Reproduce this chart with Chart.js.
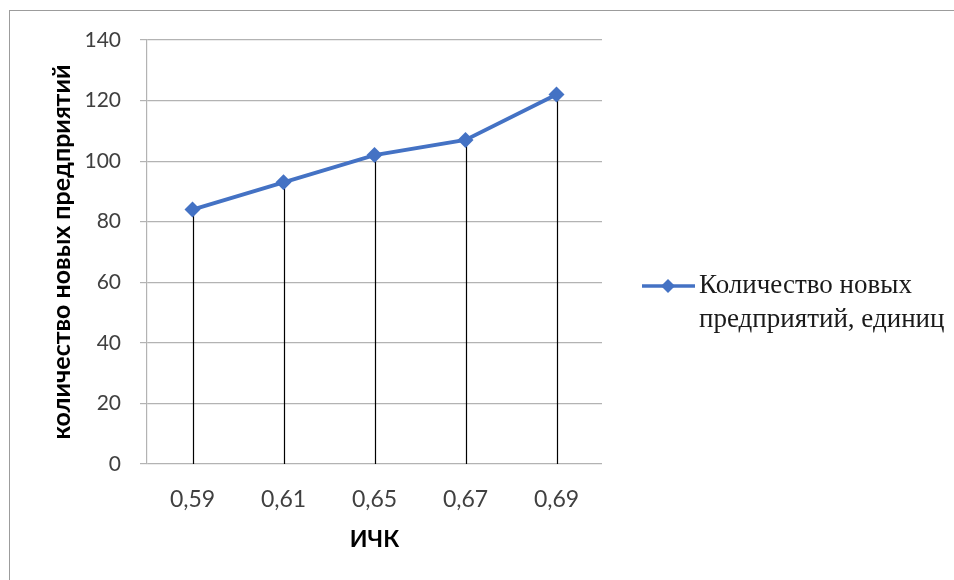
<!DOCTYPE html>
<html>
<head>
<meta charset="utf-8">
<script src="https://cdn.jsdelivr.net/npm/chart.js@4/dist/chart.umd.min.js"></script>
<style>
  html, body { margin: 0; padding: 0; background: #fff; overflow: hidden; }
  #wrap { position: relative; width: 954px; height: 580px; }
  #frame { position: absolute; left: 9px; top: 10px; width: 980px; height: 600px;
           border-left: 1.5px solid #9c9c9c; border-top: 1.5px solid #9c9c9c; }
  #c { position: absolute; left: 0; top: 0; }
</style>
</head>
<body>
<div id="wrap">
  <div id="frame"></div>
  <canvas id="c" width="954" height="580"></canvas>
</div>
<script>
// Index of knowledge capital vs. number of new enterprises
const categories = ['0,59', '0,61', '0,65', '0,67', '0,69'];
const newEnterprises = [84, 93, 102, 107, 122];
const seriesLabelLines = ['Количество новых', 'предприятий, единиц'];
const yMin = 0, yMax = 140, yStep = 20;

const LINE_BLUE = '#4472C4';
const GRID_GREY = '#b3b3b3';

// Black drop lines from each point down to the category axis
const dropLines = {
  id: 'dropLines',
  beforeDatasetsDraw(chart) {
    const { ctx, scales: { y } } = chart;
    const meta = chart.getDatasetMeta(0);
    ctx.save();
    ctx.strokeStyle = '#000';
    ctx.lineWidth = 1.2;
    meta.data.forEach(pt => {
      const x = Math.round(pt.x) + 0.5;
      ctx.beginPath();
      ctx.moveTo(x, pt.y);
      ctx.lineTo(x, y.getPixelForValue(yMin));
      ctx.stroke();
    });
    ctx.restore();
  }
};

// Two-line legend entry to the right of the plot
const sideLegend = {
  id: 'sideLegend',
  afterDraw(chart) {
    const { ctx, chartArea } = chart;
    const x0 = chartArea.right + 40;
    const yc = 286;
    ctx.save();
    ctx.strokeStyle = LINE_BLUE;
    ctx.lineWidth = 3.5;
    ctx.beginPath();
    ctx.moveTo(x0, yc);
    ctx.lineTo(x0 + 53, yc);
    ctx.stroke();
    ctx.fillStyle = LINE_BLUE;
    ctx.beginPath();
    const cx = x0 + 26, r = 7;
    ctx.moveTo(cx, yc - r); ctx.lineTo(cx + r, yc); ctx.lineTo(cx, yc + r); ctx.lineTo(cx - r, yc);
    ctx.closePath();
    ctx.fill();
    ctx.fillStyle = '#1a1a1a';
    ctx.font = '27px "Liberation Serif", "Times New Roman", serif';
    ctx.textBaseline = 'middle';
    ctx.textAlign = 'left';
    seriesLabelLines.forEach((t, i) => ctx.fillText(t, x0 + 57, yc + i * 34));
    ctx.restore();
  }
};

new Chart(document.getElementById('c'), {
  type: 'line',
  data: {
    labels: categories,
    datasets: [{
      label: seriesLabelLines.join(' '),
      data: newEnterprises,
      borderColor: LINE_BLUE,
      backgroundColor: LINE_BLUE,
      borderWidth: 4,
      pointStyle: 'rectRot',
      pointRadius: 8,
      pointBorderWidth: 0,
      tension: 0,
      fill: false
    }]
  },
  options: {
    responsive: false,
    animation: false,
    devicePixelRatio: 1,
    layout: { padding: { top: 40, right: 352, bottom: 0, left: 0 } },
    plugins: { legend: { display: false }, tooltip: { enabled: false } },
    scales: {
      x: {
        offset: true,
        grid: { display: false },
        border: { display: false },
        ticks: { color: '#404040', padding: 14, font: { family: 'Lato', size: 23 } },
        title: {
          display: true, text: 'ИЧК', color: '#000',
          font: { family: 'Lato', size: 23, weight: 'bold' },
          padding: { top: 0, bottom: 27 }
        },
        afterFit(s) { s.height = 116; }
      },
      y: {
        min: yMin, max: yMax,
        ticks: { stepSize: yStep, color: '#404040', padding: 19, font: { family: 'Lato', size: 21 } },
        grid: { color: GRID_GREY, lineWidth: 1.2, tickLength: 7, drawTicks: true },
        border: { display: true, color: GRID_GREY, width: 1.2 },
        title: {
          display: true, text: 'количество новых предприятий', color: '#000',
          font: { family: 'Lato', size: 25, weight: 'bold' },
          padding: { top: 47, bottom: 0 }
        },
        afterFit(s) { s.width = 147; }
      }
    }
  },
  plugins: [dropLines, sideLegend]
});
</script>
</body>
</html>
